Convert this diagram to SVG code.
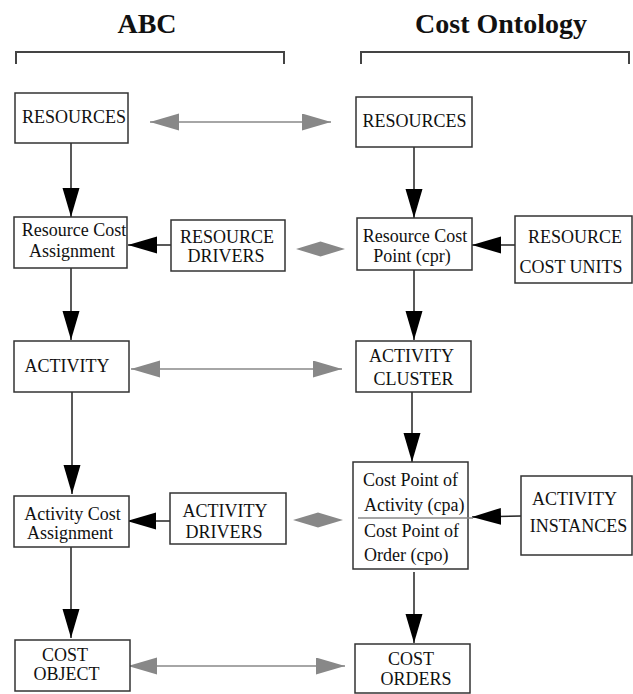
<svg xmlns="http://www.w3.org/2000/svg" width="633" height="694" viewBox="0 0 633 694">
<defs>
<style>
.box{fill:#fff;stroke:#333;stroke-width:1.5}
.t{font-family:"Liberation Serif","Times New Roman",serif;font-size:18px;fill:#111;text-anchor:middle}
.ts{text-anchor:start}
.title{font-family:"Liberation Serif","Times New Roman",serif;font-size:28px;font-weight:bold;fill:#111;text-anchor:middle}
.bracket{fill:none;stroke:#444;stroke-width:2}
.blk{stroke:#222;stroke-width:1.5;fill:none;marker-end:url(#ah)}
.gry{stroke:#888;stroke-width:1.5;fill:none;marker-start:url(#gh);marker-end:url(#gh)}
.dia{fill:#888;stroke:none}
</style>
<marker id="ah" markerUnits="userSpaceOnUse" markerWidth="30" markerHeight="18" refX="29" refY="8.5" orient="auto">
<path d="M0,0 L29,8.5 L0,17 z" fill="#000"/>
</marker>
<marker id="gh" markerUnits="userSpaceOnUse" markerWidth="30" markerHeight="18" refX="29" refY="8.5" orient="auto-start-reverse">
<path d="M0,0 L29,8.5 L0,17 z" fill="#888"/>
</marker>
</defs>
<rect width="633" height="694" fill="#fff"/>
<g id="headers">
<text class="title" x="147" y="33">ABC</text>
<text class="title" x="501" y="33">Cost Ontology</text>
<path class="bracket" d="M16,64 V52 H284 V64"/>
<path class="bracket" d="M361,64 V52 H629 V64"/>
</g>
<g id="connectors">
<line class="blk" x1="71" y1="143" x2="71" y2="217"/>
<line class="blk" x1="171" y1="245" x2="128" y2="245"/>
<line class="blk" x1="71" y1="268" x2="71" y2="340"/>
<line class="blk" x1="72" y1="392" x2="72" y2="494"/>
<line class="blk" x1="170" y1="521" x2="127" y2="521"/>
<line class="blk" x1="71" y1="547" x2="71" y2="638"/>
<line class="blk" x1="414" y1="147" x2="414" y2="218"/>
<line class="blk" x1="515" y1="245" x2="472" y2="245"/>
<line class="blk" x1="414" y1="270" x2="414" y2="340"/>
<line class="blk" x1="412" y1="392" x2="412" y2="462"/>
<line class="blk" x1="521" y1="516" x2="472" y2="517"/>
<line class="blk" x1="414" y1="572" x2="414" y2="643"/>
<line class="gry" x1="150" y1="122" x2="331" y2="122"/>
<line class="gry" x1="131" y1="369" x2="342" y2="369"/>
<line class="gry" x1="128" y1="666" x2="345" y2="666"/>
<polygon class="dia" points="296,249 320.5,241.5 345,249 320.5,256.5"/>
<polygon class="dia" points="293,520 318,512.5 343,520 318,527.5"/>
</g>
<g id="abc-resources">
<rect class="box" x="15" y="93" width="113" height="50"/>
<text class="t" x="74" y="123">RESOURCES</text>
</g>
<g id="resource-cost-assignment">
<rect class="box" x="14" y="217" width="113" height="51"/>
<text class="t" x="74" y="236">Resource Cost</text>
<text class="t" x="72" y="257">Assignment</text>
</g>
<g id="resource-drivers">
<rect class="box" x="171" y="220" width="114" height="51"/>
<text class="t" x="227" y="243">RESOURCE</text>
<text class="t" x="226" y="262">DRIVERS</text>
</g>
<g id="activity">
<rect class="box" x="14" y="341" width="115" height="51"/>
<text class="t" x="67" y="372">ACTIVITY</text>
</g>
<g id="activity-cost-assignment">
<rect class="box" x="14" y="496" width="115" height="51"/>
<text class="t" x="72.5" y="520">Activity Cost</text>
<text class="t" x="70" y="539">Assignment</text>
</g>
<g id="activity-drivers">
<rect class="box" x="170" y="493" width="116" height="51"/>
<text class="t" x="225" y="517">ACTIVITY</text>
<text class="t" x="224" y="538">DRIVERS</text>
</g>
<g id="cost-object">
<rect class="box" x="15" y="640" width="115" height="51"/>
<text class="t" x="65" y="661">COST</text>
<text class="t" x="66.5" y="680">OBJECT</text>
</g>
<g id="co-resources">
<rect class="box" x="356" y="97" width="116" height="50"/>
<text class="t" x="414.5" y="127">RESOURCES</text>
</g>
<g id="resource-cost-point">
<rect class="box" x="357" y="218" width="115" height="52"/>
<text class="t" x="415" y="242">Resource Cost</text>
<text class="t" x="412" y="262">Point (cpr)</text>
</g>
<g id="resource-cost-units">
<rect class="box" x="515" y="216" width="117" height="67"/>
<text class="t" x="575" y="243">RESOURCE</text>
<text class="t" x="571" y="273">COST UNITS</text>
</g>
<g id="activity-cluster">
<rect class="box" x="356" y="341" width="115" height="51"/>
<text class="t" x="411.5" y="362">ACTIVITY</text>
<text class="t" x="413.5" y="385">CLUSTER</text>
</g>
<g id="cost-points">
<rect class="box" x="353" y="462" width="115" height="107"/>
<line x1="358" y1="518" x2="473" y2="518" stroke="#888" stroke-width="1.5"/>
<text class="t ts" x="363" y="486">Cost Point of</text>
<text class="t ts" x="364" y="511">Activity (cpa)</text>
<text class="t ts" x="364" y="537">Cost Point of</text>
<text class="t ts" x="364" y="561">Order (cpo)</text>
</g>
<g id="activity-instances">
<rect class="box" x="521" y="476" width="111" height="79"/>
<text class="t" x="574.5" y="505">ACTIVITY</text>
<text class="t" x="578.5" y="532">INSTANCES</text>
</g>
<g id="cost-orders">
<rect class="box" x="355" y="644" width="115" height="49"/>
<text class="t" x="411" y="665">COST</text>
<text class="t" x="416" y="685">ORDERS</text>
</g>
</svg>
